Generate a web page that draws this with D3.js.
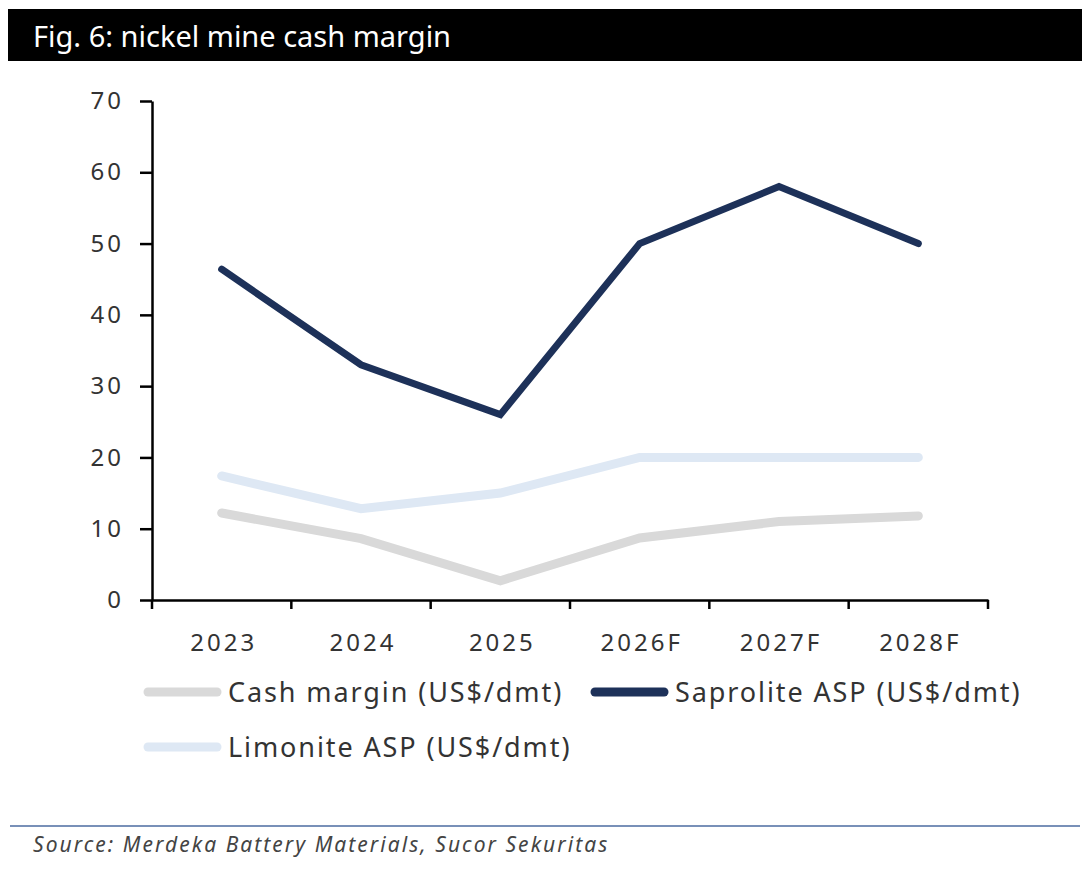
<!DOCTYPE html>
<html>
<head>
<meta charset="utf-8">
<script src="https://cdn.jsdelivr.net/npm/d3@7"></script>
<style>
  body { margin: 0; background: #fff; }
  text { font-family: "Noto Sans", "Open Sans", sans-serif; }
</style>
</head>
<body>
<div id="chart"></div>
<script>
// data
var years = ["2023", "2024", "2025", "2026F", "2027F", "2028F"];
var cashMargin = [12.2, 8.6, 2.7, 8.7, 11.0, 11.8];
var saprolite = [46.4, 33.0, 26.0, 50.0, 58.0, 50.0];
var limonite = [17.4, 12.8, 15.0, 20.0, 20.0, 20.0];
var yTicks = [0, 10, 20, 30, 40, 50, 60, 70];

var series = [
  { name: "Cash margin (US$/dmt)", values: cashMargin, color: "#d9d9d9", width: 9 },
  { name: "Limonite ASP (US$/dmt)", values: limonite, color: "#dee8f4", width: 9 },
  { name: "Saprolite ASP (US$/dmt)", values: saprolite, color: "#1d3159", width: 7 }
];

var width = 1087, height = 876;
var plotLeft = 152, plotRight = 988, plotTop = 101, plotBottom = 600;

var svg = d3.select("#chart").append("svg")
  .attr("width", width)
  .attr("height", height);

// title bar
svg.append("rect")
  .attr("x", 8).attr("y", 9)
  .attr("width", 1074).attr("height", 52)
  .attr("fill", "#000");
svg.append("text")
  .attr("x", 33).attr("y", 47)
  .attr("fill", "#fff")
  .attr("font-size", 29)
  .text("Fig. 6: nickel mine cash margin");

var x = d3.scaleBand().domain(years).range([plotLeft, plotRight]);
var y = d3.scaleLinear().domain([0, 70]).range([plotBottom, plotTop]);

var yAxis = svg.append("g")
  .attr("transform", "translate(" + plotLeft + ",0)")
  .call(d3.axisLeft(y).tickValues(yTicks).tickSize(12).tickPadding(16).tickSizeOuter(0));

var xAxis = svg.append("g")
  .attr("transform", "translate(0," + plotBottom + ")")
  .call(d3.axisBottom(x).tickSize(0).tickPadding(34));

// x ticks sit on the band edges
xAxis.selectAll(".edge")
  .data(d3.range(years.length + 1))
  .enter()
  .append("line")
  .attr("class", "edge")
  .attr("x1", function(i) { return plotLeft + i * x.step(); })
  .attr("x2", function(i) { return plotLeft + i * x.step(); })
  .attr("y1", 0)
  .attr("y2", 9)
  .attr("stroke", "#000")
  .attr("stroke-width", 2.5);

[yAxis, xAxis].forEach(function(g) {
  g.select(".domain").attr("stroke", "#000").attr("stroke-width", 2.5);
  g.selectAll(".tick line").attr("stroke", "#000").attr("stroke-width", 2.5);
  g.selectAll(".tick text")
    .attr("font-size", 24)
    .attr("fill", "#333")
    .attr("letter-spacing", 3)
    .style("font-family", "'Noto Sans', 'Open Sans', sans-serif");
});
xAxis.selectAll(".tick text").attr("dx", 2);

var line = d3.line()
  .x(function(d, i) { return x(years[i]) + x.bandwidth() / 2; })
  .y(function(d) { return y(d); });

svg.selectAll(".series")
  .data(series)
  .enter()
  .append("path")
  .attr("class", "series")
  .attr("d", function(d) { return line(d.values); })
  .attr("fill", "none")
  .attr("stroke", function(d) { return d.color; })
  .attr("stroke-width", function(d) { return d.width; })
  .attr("stroke-linecap", "round")
  .attr("stroke-linejoin", "miter");

// legend
var legendItems = [
  { s: series[0], x: 145, y: 692 },
  { s: series[2], x: 592, y: 692 },
  { s: series[1], x: 145, y: 747 }
];

var legend = svg.selectAll(".legend")
  .data(legendItems)
  .enter()
  .append("g")
  .attr("class", "legend")
  .attr("transform", function(d) { return "translate(" + d.x + "," + d.y + ")"; });

legend.append("line")
  .attr("x1", 3).attr("x2", 72)
  .attr("y1", 0).attr("y2", 0)
  .attr("stroke", function(d) { return d.s.color; })
  .attr("stroke-width", 9)
  .attr("stroke-linecap", "round");

legend.append("text")
  .attr("x", 83)
  .attr("y", 10)
  .attr("font-size", 27)
  .attr("letter-spacing", 1.9)
  .attr("fill", "#333")
  .text(function(d) { return d.s.name; });

// source footer
svg.append("line")
  .attr("x1", 10).attr("x2", 1080)
  .attr("y1", 826).attr("y2", 826)
  .attr("stroke", "#7890b8")
  .attr("stroke-width", 2);

svg.append("text")
  .attr("x", 33).attr("y", 852)
  .attr("font-size", 21)
  .attr("font-style", "italic")
  .attr("letter-spacing", 2.05)
  .attr("fill", "#444")
  .text("Source: Merdeka Battery Materials, Sucor Sekuritas");
</script>
</body>
</html>
